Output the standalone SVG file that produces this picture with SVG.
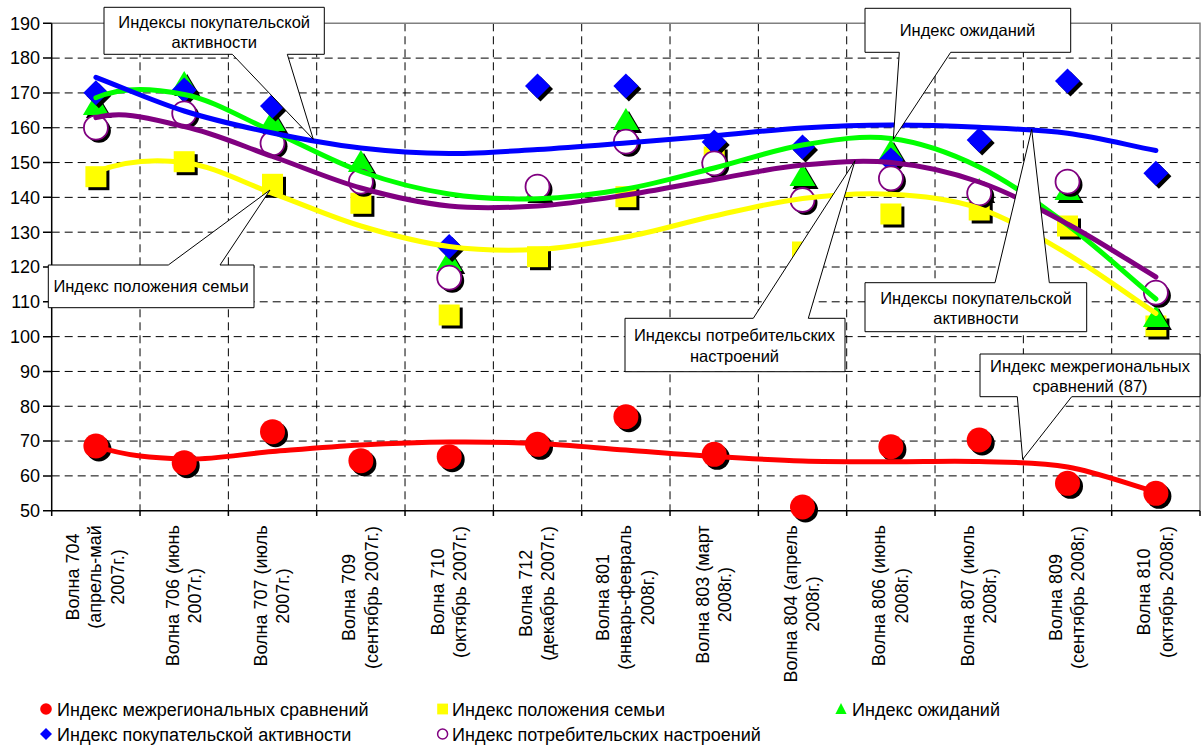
<svg xmlns="http://www.w3.org/2000/svg" width="1204" height="745" viewBox="0 0 1204 745">
<style>
text{font-family:"Liberation Sans",Arial,sans-serif;fill:#000}
.yl{font-size:18px;text-anchor:end}
.xl{font-size:18px;text-anchor:middle}
.co{font-size:16.5px;text-anchor:middle}
.lg{font-size:18px}
.grid{stroke:#000;stroke-width:1;stroke-dasharray:8 5;fill:none}
.trend{fill:none;stroke-width:5;stroke-linecap:round;stroke-linejoin:round}
.callout{fill:#fff;stroke:#000;stroke-width:1}
</style>
<defs>
<g id="mR"><circle cx="3" cy="3" r="12.5" fill="#000"/><circle r="12.5" fill="#f00"/></g>
<g id="mY"><rect x="-7.5" y="-7.5" width="21" height="21" fill="#000"/><rect x="-10.5" y="-10.5" width="21" height="21" fill="#ff0"/></g>
<g id="mG"><polygon points="3,-10 16,12 -10,12" fill="#000"/><polygon points="0,-13 13,9 -13,9" fill="#0f0"/></g>
<g id="mB"><polygon points="3,-9.5 15.5,3 3,15.5 -9.5,3" fill="#000"/><polygon points="0,-12.5 12.5,0 0,12.5 -12.5,0" fill="#00f"/></g>
<g id="mP"><circle cx="3" cy="3" r="12" fill="#000"/><circle r="12" fill="#fff" stroke="#800080" stroke-width="1.8"/></g>
</defs>
<rect width="1204" height="745" fill="#fff"/>
<g id="grid">
<path class="grid" d="M51.7,58.11H1200M51.7,92.93H1200M51.7,127.74H1200M51.7,162.56H1200M51.7,197.37H1200M51.7,232.18H1200M51.7,267H1200M51.7,301.81H1200M51.7,336.63H1200M51.7,371.44H1200M51.7,406.25H1200M51.7,441.07H1200M51.7,475.88H1200"/>
<path class="grid" d="M140.03,23.3V510.7M228.37,23.3V510.7M316.7,23.3V510.7M405.03,23.3V510.7M493.37,23.3V510.7M581.7,23.3V510.7M670.03,23.3V510.7M758.37,23.3V510.7M846.7,23.3V510.7M935.03,23.3V510.7M1023.37,23.3V510.7M1111.7,23.3V510.7"/>
<path d="M51.7,23.3H1200V510.7" fill="none" stroke="#808080" stroke-width="1.5"/>
</g>
<g id="axes" stroke="#000" stroke-width="1.5" fill="none">
<path d="M51.7,23.3V510.7H1200"/>
<path d="M43,23.3H51.7M43,58.11H51.7M43,92.93H51.7M43,127.74H51.7M43,162.56H51.7M43,197.37H51.7M43,232.18H51.7M43,267H51.7M43,301.81H51.7M43,336.63H51.7M43,371.44H51.7M43,406.25H51.7M43,441.07H51.7M43,475.88H51.7M43,510.7H51.7"/>
<path d="M51.7,510.7V516M140.03,510.7V516M228.37,510.7V516M316.7,510.7V516M405.03,510.7V516M493.37,510.7V516M581.7,510.7V516M670.03,510.7V516M758.37,510.7V516M846.7,510.7V516M935.03,510.7V516M1023.37,510.7V516M1111.7,510.7V516M1200,510.7V516"/>
</g>
<g id="y-labels">
<text class="yl" x="40" y="29.6">190</text>
<text class="yl" x="40" y="64.4">180</text>
<text class="yl" x="40" y="99.2">170</text>
<text class="yl" x="40" y="134">160</text>
<text class="yl" x="40" y="168.9">150</text>
<text class="yl" x="40" y="203.7">140</text>
<text class="yl" x="40" y="238.5">130</text>
<text class="yl" x="40" y="273.3">120</text>
<text class="yl" x="40" y="308.1">110</text>
<text class="yl" x="40" y="342.9">100</text>
<text class="yl" x="40" y="377.7">90</text>
<text class="yl" x="40" y="412.5">80</text>
<text class="yl" x="40" y="447.4">70</text>
<text class="yl" x="40" y="482.2">60</text>
<text class="yl" x="40" y="517">50</text>
</g>
<g id="x-labels">
<text class="xl" transform="translate(78.9,577) rotate(-90)">Волна 704</text>
<text class="xl" transform="translate(101.4,577) rotate(-90)">(апрель-май</text>
<text class="xl" transform="translate(123.9,577) rotate(-90)">2007г.)</text>
<text class="xl" transform="translate(178.5,595.7) rotate(-90)">Волна 706 (июнь</text>
<text class="xl" transform="translate(201,595.7) rotate(-90)">2007г.)</text>
<text class="xl" transform="translate(266.8,596) rotate(-90)">Волна 707 (июль</text>
<text class="xl" transform="translate(289.3,596) rotate(-90)">2007г.)</text>
<text class="xl" transform="translate(355.2,597.5) rotate(-90)">Волна 709</text>
<text class="xl" transform="translate(377.7,597.5) rotate(-90)">(сентябрь 2007г.)</text>
<text class="xl" transform="translate(443.5,592) rotate(-90)">Волна 710</text>
<text class="xl" transform="translate(466,592) rotate(-90)">(октябрь 2007г.)</text>
<text class="xl" transform="translate(531.8,593.4) rotate(-90)">Волна 712</text>
<text class="xl" transform="translate(554.3,593.4) rotate(-90)">(декабрь 2007г.)</text>
<text class="xl" transform="translate(608.9,597.5) rotate(-90)">Волна 801</text>
<text class="xl" transform="translate(631.4,597.5) rotate(-90)">(январь-февраль</text>
<text class="xl" transform="translate(653.9,597.5) rotate(-90)">2008г.)</text>
<text class="xl" transform="translate(708.5,594.6) rotate(-90)">Волна 803 (март</text>
<text class="xl" transform="translate(731,594.6) rotate(-90)">2008г.)</text>
<text class="xl" transform="translate(796.8,604) rotate(-90)">Волна 804 (апрель</text>
<text class="xl" transform="translate(819.3,604) rotate(-90)">2008г.)</text>
<text class="xl" transform="translate(885.2,595.7) rotate(-90)">Волна 806 (июнь</text>
<text class="xl" transform="translate(907.7,595.7) rotate(-90)">2008г.)</text>
<text class="xl" transform="translate(973.5,596) rotate(-90)">Волна 807 (июль</text>
<text class="xl" transform="translate(996,596) rotate(-90)">2008г.)</text>
<text class="xl" transform="translate(1061.8,597.5) rotate(-90)">Волна 809</text>
<text class="xl" transform="translate(1084.3,597.5) rotate(-90)">(сентябрь 2008г.)</text>
<text class="xl" transform="translate(1150.2,592) rotate(-90)">Волна 810</text>
<text class="xl" transform="translate(1172.7,592) rotate(-90)">(октябрь 2008г.)</text>
</g>
<g id="series-interregional">
<use href="#mR" x="95.9" y="446"/><use href="#mR" x="184.2" y="462.7"/><use href="#mR" x="272.5" y="431.7"/><use href="#mR" x="360.9" y="460.7"/><use href="#mR" x="449.2" y="456.7"/><use href="#mR" x="537.5" y="444.3"/><use href="#mR" x="625.9" y="416.7"/><use href="#mR" x="714.2" y="454.3"/><use href="#mR" x="802.5" y="507"/><use href="#mR" x="890.9" y="446.7"/><use href="#mR" x="979.2" y="440"/><use href="#mR" x="1067.5" y="483.3"/><use href="#mR" x="1155.9" y="493.3"/>
</g>
<g id="series-family">
<use href="#mY" x="95.9" y="176.7"/><use href="#mY" x="184.2" y="161.7"/><use href="#mY" x="272.5" y="184.3"/><use href="#mY" x="360.9" y="203.3"/><use href="#mY" x="449.2" y="315"/><use href="#mY" x="537.5" y="256.7"/><use href="#mY" x="625.9" y="196.7"/><use href="#mY" x="714.2" y="157"/><use href="#mY" x="802.5" y="252"/><use href="#mY" x="890.9" y="214"/><use href="#mY" x="979.2" y="210"/><use href="#mY" x="1067.5" y="226"/><use href="#mY" x="1155.9" y="326"/>
</g>
<g id="series-expectations">
<use href="#mG" x="95.9" y="106"/><use href="#mG" x="184.2" y="84"/><use href="#mG" x="272.5" y="122"/><use href="#mG" x="360.9" y="163"/><use href="#mG" x="449.2" y="262"/><use href="#mG" x="537.5" y="191"/><use href="#mG" x="625.9" y="121"/><use href="#mG" x="802.5" y="177"/><use href="#mG" x="890.9" y="152"/><use href="#mG" x="979.2" y="191"/><use href="#mG" x="1067.5" y="191"/><use href="#mG" x="1155.9" y="318"/>
</g>
<g id="series-purchasing">
<use href="#mB" x="95.9" y="92.7"/><use href="#mB" x="184.2" y="90"/><use href="#mB" x="272.5" y="106"/><use href="#mB" x="449.2" y="246.5"/><use href="#mB" x="537.5" y="86"/><use href="#mB" x="625.9" y="86"/><use href="#mB" x="714.2" y="142"/><use href="#mB" x="802.5" y="147"/><use href="#mB" x="890.9" y="160"/><use href="#mB" x="979.2" y="140"/><use href="#mB" x="1067.5" y="81"/><use href="#mB" x="1155.9" y="173.3"/>
</g>
<g id="series-consumer">
<use href="#mP" x="95.9" y="127.7"/><use href="#mP" x="184.2" y="113.3"/><use href="#mP" x="272.5" y="143.3"/><use href="#mP" x="360.9" y="181.7"/><use href="#mP" x="449.2" y="277.7"/><use href="#mP" x="537.5" y="186.7"/><use href="#mP" x="625.9" y="141.7"/><use href="#mP" x="714.2" y="163.3"/><use href="#mP" x="802.5" y="200"/><use href="#mP" x="890.9" y="178.3"/><use href="#mP" x="979.2" y="193.3"/><use href="#mP" x="1067.5" y="181.7"/><use href="#mP" x="1155.9" y="292.7"/>
</g>
<g id="trendlines">
<path class="trend" stroke="#f00" d="M95.9,446 C125.34,456.25 154.79,458.08 184.23,459 C213.67,459.92 243.13,453.83 272.57,451.5 C302.01,449.17 331.46,446.58 360.9,445 C390.34,443.42 419.79,442.25 449.23,442 C478.67,441.75 508.13,442.17 537.57,443.5 C567.01,444.83 596.46,447.83 625.9,450 C655.34,452.17 684.79,454.67 714.23,456.5 C743.67,458.33 773.13,460.13 802.57,461 C832.01,461.87 861.46,461.62 890.9,461.7 C920.34,461.78 949.79,460.62 979.23,461.5 C1008.67,462.38 1038.13,461.92 1067.57,467 C1097.01,472.08 1126.46,483.67 1155.9,492"/>
<path class="trend" stroke="#ff0" d="M95.9,172 C125.34,160.2 154.79,158.95 184.23,162.5 C213.67,166.05 243.13,182.72 272.57,193.3 C302.01,203.88 331.46,217.13 360.9,226 C390.34,234.87 419.79,242.58 449.23,246.5 C478.67,250.42 508.13,251.08 537.57,249.5 C567.01,247.92 596.46,242.58 625.9,237 C655.34,231.42 684.79,222.42 714.23,216 C743.67,209.58 773.13,202.12 802.57,198.5 C832.01,194.88 861.46,192.67 890.9,194.3 C920.34,195.93 949.79,198.35 979.23,208.3 C1008.67,218.25 1038.13,236.5 1067.57,254 C1097.01,271.5 1126.46,293.53 1155.9,313.3"/>
<path class="trend" stroke="#0f0" d="M95.9,97.7 C125.34,85.7 154.79,88.87 184.23,94.5 C213.67,100.13 243.13,118.67 272.57,131.5 C302.01,144.33 331.46,161.08 360.9,171.5 C390.34,181.92 419.79,189.47 449.23,194 C478.67,198.53 508.13,199.53 537.57,198.7 C567.01,197.87 596.46,194.12 625.9,189 C655.34,183.88 684.79,175.33 714.23,168 C743.67,160.67 773.13,149.92 802.57,145 C832.01,140.08 861.46,134.83 890.9,138.5 C920.34,142.17 949.79,152.58 979.23,167 C1008.67,181.42 1038.13,203 1067.57,225 C1097.01,247 1126.46,274.33 1155.9,299"/>
<path class="trend" stroke="#00f" d="M95.9,77.3 C125.34,88.53 154.79,101.72 184.23,111 C213.67,120.28 243.13,126.83 272.57,133 C302.01,139.17 331.46,144.58 360.9,148 C390.34,151.42 419.79,153.25 449.23,153.5 C478.67,153.75 508.13,151.25 537.57,149.5 C567.01,147.75 596.46,145.3 625.9,143 C655.34,140.7 684.79,138.2 714.23,135.7 C743.67,133.2 773.13,129.78 802.57,128 C832.01,126.22 861.46,125.12 890.9,125 C920.34,124.88 949.79,125.92 979.23,127.3 C1008.67,128.68 1038.13,129.43 1067.57,133.3 C1097.01,137.17 1126.46,144.77 1155.9,150.5"/>
<path class="trend" stroke="#800080" d="M95.9,117.7 C125.34,109.8 154.79,120.03 184.23,126.5 C213.67,132.97 243.13,146.25 272.57,156.5 C302.01,166.75 331.46,179.75 360.9,188 C390.34,196.25 419.79,203 449.23,206 C478.67,209 508.13,207.83 537.57,206 C567.01,204.17 596.46,199.42 625.9,195 C655.34,190.58 684.79,184.5 714.23,179.5 C743.67,174.5 773.13,167.83 802.57,165 C832.01,162.17 861.46,159.67 890.9,162.5 C920.34,165.33 949.79,171.75 979.23,182 C1008.67,192.25 1038.13,208.17 1067.57,224 C1097.01,239.83 1126.46,259.33 1155.9,277"/>
</g>
<g id="callout-purchasing-top">
<polygon class="callout" points="104,7.3 324.3,7.3 324.3,54.3 287.3,54.3 313.3,139.3 232.3,54.3 104,54.3"/>
<text class="co" x="214.2" y="28.3">Индексы покупательской</text>
<text class="co" x="214.2" y="48.3">активности</text>
</g>
<g id="callout-expectations">
<polygon class="callout" points="865,8.3 1070.7,8.3 1070.7,52.3 950.7,52.3 893.3,139.3 899.3,52.3 865,52.3"/>
<text class="co" x="967.5" y="36">Индекс ожиданий</text>
</g>
<g id="callout-family">
<polygon class="callout" points="48.3,265 168.3,265 270,190 220,265 254,265 254,307.7 48.3,307.7"/>
<text class="co" x="151" y="292">Индекс положения семьи</text>
</g>
<g id="callout-consumer">
<polygon class="callout" points="625,318.3 753.3,318.3 855,160.7 808.3,318.3 845,318.3 845,371.7 625,371.7"/>
<text class="co" x="734.5" y="341">Индексы потребительских</text>
<text class="co" x="734.5" y="362">настроений</text>
</g>
<g id="callout-purchasing-right">
<polygon class="callout" points="865,282.7 995,282.7 1031.7,129.3 1049.3,282.7 1086.7,282.7 1086.7,331.7 865,331.7"/>
<text class="co" x="976" y="303.5">Индексы покупательской</text>
<text class="co" x="976" y="324">активности</text>
</g>
<g id="callout-interregional">
<polygon class="callout" points="980,354 1200,354 1200,396.7 1071.7,396.7 1022.7,459.3 1017.3,396.7 980,396.7"/>
<text class="co" x="1090" y="371.5">Индекс межрегиональных</text>
<text class="co" x="1090" y="391.5">сравнений (87)</text>
</g>
<g id="legend">
<circle cx="46" cy="709" r="5.8" fill="#f00"/>
<text class="lg" x="57" y="715.5">Индекс межрегиональных сравнений</text>
<rect x="437.2" y="703.6" width="10.8" height="10.8" fill="#ff0"/>
<text class="lg" x="452" y="715.5">Индекс положения семьи</text>
<polygon points="841,703 846.6,714 835.4,714" fill="#0f0"/>
<text class="lg" x="852" y="715.5">Индекс ожиданий</text>
<polygon points="46,728 52,734 46,740 40,734" fill="#00f"/>
<text class="lg" x="57" y="740.5">Индекс покупательской активности</text>
<circle cx="442.6" cy="734" r="5" fill="#fff" stroke="#800080" stroke-width="1.5"/>
<text class="lg" x="452" y="740.5">Индекс потребительских настроений</text>
</g>
</svg>
